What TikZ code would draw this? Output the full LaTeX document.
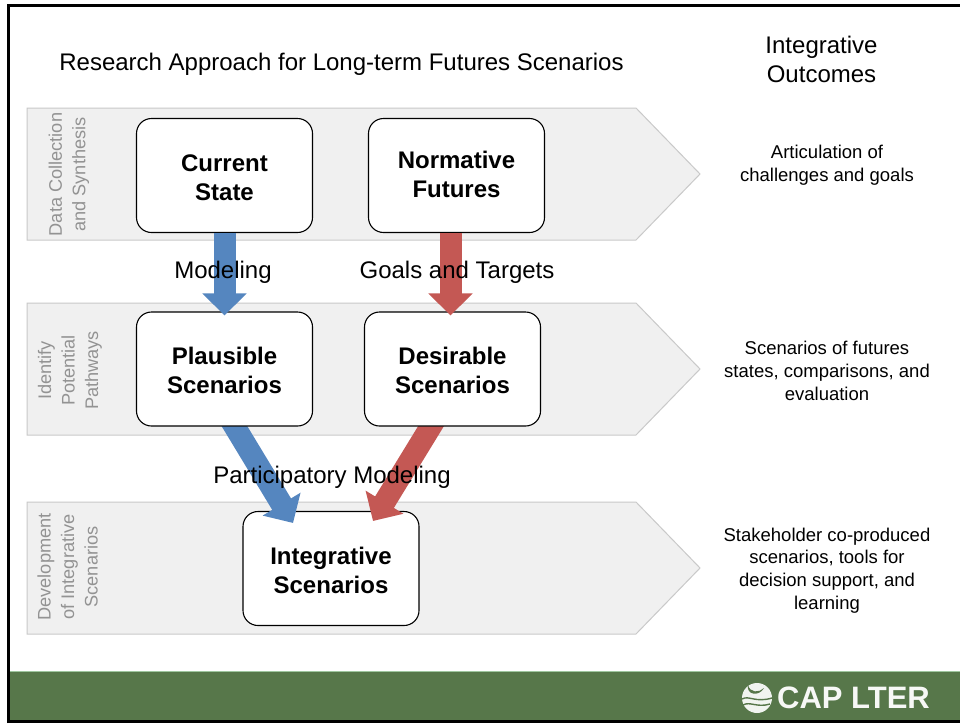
\documentclass[tikz,border=0pt]{standalone}
\usepackage{fontspec}
\setmainfont{Liberation Sans}
\usetikzlibrary{arrows.meta,positioning}
\definecolor{bandfill}{HTML}{F0F0F0}
\definecolor{bandline}{HTML}{C9C9C9}
\definecolor{bluearr}{HTML}{5586BF}
\definecolor{redarr}{HTML}{C45854}
\definecolor{footgreen}{HTML}{57774A}
\newcommand{\padtop}[1]{\rule{0pt}{#1}}
\tikzset{
  band/.style ={draw=bandline, fill=bandfill, line width=1pt},
  stage/.style={draw, line width=1.1pt, fill=white, rounded corners=15pt, minimum width=176pt, minimum height=114pt,
                inner sep=0pt, align=center, font=\fontsize{24}{29}\selectfont\bfseries},
  side/.style ={rotate=90, align=center, text=gray!85, inner sep=0pt, font=\fontsize{18.2}{23.5}\selectfont},
  result/.style={align=center, inner sep=0pt, font=\fontsize{18.5}{22.7}\selectfont},
  head/.style ={align=center, inner sep=0pt, font=\fontsize{24}{29}\selectfont},
  blk/.style  ={line width=22pt, -{Triangle[length=22pt,width=43pt]}}
}
\begin{document}
\begin{tikzpicture}[x=1pt,y=-1pt]
\useasboundingbox (0,0) rectangle (960,723);
\fill[white] (0,0) rectangle (960,723);
% slide frame and footer
\draw[line width=3pt] (8.5,723) -- (8.5,5.5) -- (960,5.5);
\fill[footgreen] (10,671) rectangle (960,720);
\draw[line width=1pt, green!25!gray!60] (10,671) -- (960,671);
\draw[line width=3pt] (8.5,721.5) -- (960,721.5);
% the three bands
\foreach \top in {108,303,502}
  \draw[band] (27,\top) -- (636,\top) -- (700,\top+66) -- (636,\top+132) -- (27,\top+132) -- cycle;
% lower row first, the slanted arrows lie over it and under the middle row
\node[stage] (integrative) at (331,568.5) {\padtop{21pt}Integrative\\Scenarios};
\coordinate (plausout) at (229.5,418);
\coordinate (desirout) at (436,418);
\draw[blk, bluearr] (plausout) -- ([xshift=-38pt,yshift=-12pt]integrative.north);
\draw[blk, redarr] (desirout) -- ([xshift=42pt,yshift=-10pt]integrative.north);
% boxes
\node[stage] (current) at (224.5,175.5) {\padtop{21pt}Current\\State};
\node[stage] (normative) at (456.5,175.5) {Normative\\Futures\rule[-2pt]{0pt}{0pt}};
\node[stage] (plausible) at (224.5,369) {\padtop{19.5pt}Plausible\\Scenarios};
\node[stage] (desirable) at (452.5,369) {\padtop{19.5pt}Desirable\\Scenarios};
% straight arrows
\draw[blk, bluearr] (current.south) -- ([yshift=-4pt]plausible.north);
\draw[blk, redarr] ([xshift=-6pt]normative.south) -- ([xshift=-2pt,yshift=-4pt]desirable.north);
% arrow labels
\node[head] (modeling) at (223,272.5) {Modeling};
\node[head] (goals) at (457,272.5) {Goals and Targets};
\node[head] (partmodel) at (332,477.5) {Participatory Modeling};
% titles
\node[head] (title) at (341.5,64) {Research Approach for Long-term Futures Scenarios};
\node[head] (outcomes) at (821.5,59) {Integrative\\Outcomes};
% band labels
\node[side] (collect) at (69,174.5) {Data Collection\\and Synthesis};
\node[side] (identify) at (70,370.5) {Identify\\Potential\\Pathways};
\node[side] (develop) at (67.5,567) {Development\\of Integrative\\Scenarios};
% outcomes column
\node[result] (articulate) at (827,165) {Articulation of\\challenges and goals};
\node[result] (futures) at (827,371) {Scenarios of futures\\states, comparisons, and\\evaluation};
\node[result] (coprod) at (827,570.5) {Stakeholder co-produced\\scenarios, tools for\\decision support, and\\learning};
% logo
\fill[white!92!footgreen] (757,698) circle (15pt);
\fill[footgreen] (748,685) .. controls (750,693) and (759,693) .. (764,688) .. controls (759,697) and (746,695) .. (748,685);
\draw[footgreen, line width=1.4pt] (742,699) .. controls (749,695) and (755,703) .. (772,698);
\draw[footgreen, line width=1.4pt] (743,705) .. controls (750,701) and (757,708) .. (770,704);
\node[inner sep=0pt, text=white!95!footgreen, font=\fontsize{31}{31}\selectfont\bfseries] (logo) at (853.5,698) {CAP LTER};
\end{tikzpicture}
\end{document}
